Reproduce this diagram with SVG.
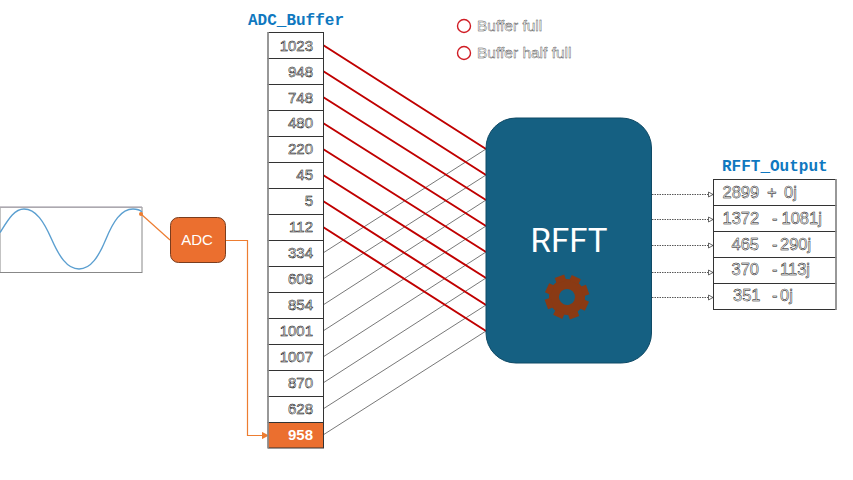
<svg xmlns="http://www.w3.org/2000/svg" width="853" height="480" viewBox="0 0 853 480">
<style>
.t{font-family:"Liberation Sans",Arial,sans-serif;font-size:15px;fill:#fff;stroke:#000;stroke-width:.5;text-anchor:end}
.o{font-size:16.500px;text-anchor:start;stroke-width:.45}
.title{font-family:"Liberation Mono","Courier New",monospace;font-weight:bold;font-size:16px;fill:#0f78c0}
.cell{fill:#fff;stroke:#333;stroke-width:1}
.side{stroke:#999;stroke-width:1.500;fill:none}
.red{stroke:#c00000;stroke-width:2;fill:none}
.gry{stroke:#555;stroke-width:.8;fill:none}
.dot{stroke:#444;stroke-width:.9;stroke-dasharray:1.500 1;fill:none}
.org{stroke:#ed7d31;stroke-width:1.200;fill:none}
.leg{fill:#fff;stroke:#d01c24;stroke-width:1.400}
.lt{font-family:"Liberation Sans",Arial,sans-serif;font-size:15.500px;fill:#fff;stroke:#444;stroke-width:.4}
.tooth{fill:#8a3a14}
</style>
<defs>
<marker id="ah" markerUnits="userSpaceOnUse" markerWidth="7" markerHeight="7" refX="5" refY="3.500" orient="auto"><path d="M.5,1L5,3.500L.5,6z" fill="#fff" stroke="#444" stroke-width=".8"/></marker>
<marker id="ao" markerWidth="6" markerHeight="6" refX="5" refY="3" orient="auto"><path d="M0,0L6,3L0,6z" fill="#ed7d31"/></marker>
<rect id="th" class="tooth" x="-5" y="-22" width="10" height="6"/>
</defs>
<g id="signal">
<rect x="0" y="207.500" width="142" height="65" fill="#fff" stroke="#888" stroke-width="1"/>
<path d="M0,207h142" stroke="#b8b4bc" stroke-width="1.500"/>
<path d="M0,232.500C8,220 14,209 24,209C36,209 44,222 51.500,239C59,256 67,269 79,269C91,269 99,256 106,239C113,222 121,209 133,209C137,209 140,210 142,212" fill="none" stroke="#5b9fd0" stroke-width="1.400"/>
</g>
<g id="connectors">
<path class="gry" d="M323,253L486,149M323,279L486,175M323,305L486,200M323,331L486,226M323,357L486,252M323,383L486,278M323,409L486,305M323,435L486,331"/>
<path class="red" d="M323,45L486,149M323,71L486,175M323,97L486,200M323,123L486,226M323,149L486,252M323,175L486,278M323,201L486,305M323,227L486,331"/>
<path class="dot" marker-end="url(#ah)" d="M652,194.500H713"/>
<path class="dot" marker-end="url(#ah)" d="M652,219.500H713"/>
<path class="dot" marker-end="url(#ah)" d="M652,245.500H713"/>
<path class="dot" marker-end="url(#ah)" d="M652,272.500H713"/>
<path class="dot" marker-end="url(#ah)" d="M652,297.500H713"/>
<circle cx="141" cy="214" r="2" fill="#ed7d31"/>
<path class="org" d="M141,214L170,240"/>
<path class="org" marker-end="url(#ao)" d="M226,240.500H247.500V435.500H268"/>
</g>
<g id="adc">
<rect x="170.500" y="217.500" width="55" height="45" rx="8" fill="#eb6f2f" stroke="#7a3d1e"/>
<text x="197" y="245" text-anchor="middle" font-family="Liberation Sans, Arial, sans-serif" font-size="15" fill="#fff">ADC</text>
</g>
<g id="adc-buffer">
<text class="title" x="248" y="25">ADC_Buffer</text>
<rect class="cell" x="268" y="32.500" width="55.500" height="26"/><text class="t" x="313" y="51">1023</text>
<rect class="cell" x="268" y="58.500" width="55.500" height="26"/><text class="t" x="313" y="77">948</text>
<rect class="cell" x="268" y="84.500" width="55.500" height="26"/><text class="t" x="313" y="103">748</text>
<rect class="cell" x="268" y="110.500" width="55.500" height="26"/><text class="t" x="313" y="128">480</text>
<rect class="cell" x="268" y="136.500" width="55.500" height="26"/><text class="t" x="313" y="154">220</text>
<rect class="cell" x="268" y="162.500" width="55.500" height="26"/><text class="t" x="313" y="180">45</text>
<rect class="cell" x="268" y="188.500" width="55.500" height="26"/><text class="t" x="313" y="206">5</text>
<rect class="cell" x="268" y="214.500" width="55.500" height="26"/><text class="t" x="313" y="232">112</text>
<rect class="cell" x="268" y="240.500" width="55.500" height="26"/><text class="t" x="313" y="258">334</text>
<rect class="cell" x="268" y="266.500" width="55.500" height="26"/><text class="t" x="313" y="284">608</text>
<rect class="cell" x="268" y="292.500" width="55.500" height="26"/><text class="t" x="313" y="310">854</text>
<rect class="cell" x="268" y="318.500" width="55.500" height="26"/><text class="t" x="313" y="336">1001</text>
<rect class="cell" x="268" y="344.500" width="55.500" height="26"/><text class="t" x="313" y="362">1007</text>
<rect class="cell" x="268" y="370.500" width="55.500" height="26"/><text class="t" x="313" y="388">870</text>
<rect class="cell" x="268" y="396.500" width="55.500" height="26"/><text class="t" x="313" y="414">628</text>
<rect x="268" y="422.500" width="55.500" height="25.500" fill="#eb6f2f" stroke="#333"/><text x="313" y="440" text-anchor="end" font-family="Liberation Sans, Arial, sans-serif" font-size="15" font-weight="bold" fill="#fff">958</text>
<path class="side" d="M268,32V448"/>
</g>
<g id="legend">
<circle class="leg" cx="464" cy="26" r="6.500"/><text class="lt" x="477" y="31">Buffer full</text>
<circle class="leg" cx="464" cy="53" r="6.500"/><text class="lt" x="477" y="58">Buffer half full</text>
</g>
<g id="rfft">
<rect x="486" y="118" width="165.500" height="245" rx="30" fill="#156082" stroke="#0f4a66"/>
<text x="569" y="252" text-anchor="middle" font-family="Roboto, Liberation Sans, sans-serif" font-size="33" fill="#fff">RFFT</text>
<g transform="translate(567,297) rotate(25)">
<circle r="13" fill="none" stroke="#8a3a14" stroke-width="10"/>
<use href="#th"/><use href="#th" transform="rotate(45)"/><use href="#th" transform="rotate(90)"/><use href="#th" transform="rotate(135)"/><use href="#th" transform="rotate(180)"/><use href="#th" transform="rotate(225)"/><use href="#th" transform="rotate(270)"/><use href="#th" transform="rotate(315)"/>
</g>
</g>
<g id="rfft-output">
<text class="title" x="722" y="171">RFFT_Output</text>
<rect class="cell" x="713.500" y="179.500" width="122.500" height="26"/><text class="t o" y="198"><tspan x="722.500">2899</tspan><tspan x="767">+</tspan><tspan x="784">0j</tspan></text>
<rect class="cell" x="713.500" y="205.500" width="122.500" height="26"/><text class="t o" y="224"><tspan x="722.500">1372</tspan><tspan x="772">-</tspan><tspan x="781.500">1081j</tspan></text>
<rect class="cell" x="713.500" y="231.500" width="122.500" height="26"/><text class="t o" y="250"><tspan x="731.500">465</tspan><tspan x="772">-</tspan><tspan x="780">290j</tspan></text>
<rect class="cell" x="713.500" y="257.500" width="122.500" height="26"/><text class="t o" y="275"><tspan x="731.500">370</tspan><tspan x="772">-</tspan><tspan x="780">113j</tspan></text>
<rect class="cell" x="713.500" y="283.500" width="122.500" height="26"/><text class="t o" y="301"><tspan x="733">351</tspan><tspan x="772">-</tspan><tspan x="780">0j</tspan></text>
<path class="side" d="M836,179V310"/>
</g>
</svg>
